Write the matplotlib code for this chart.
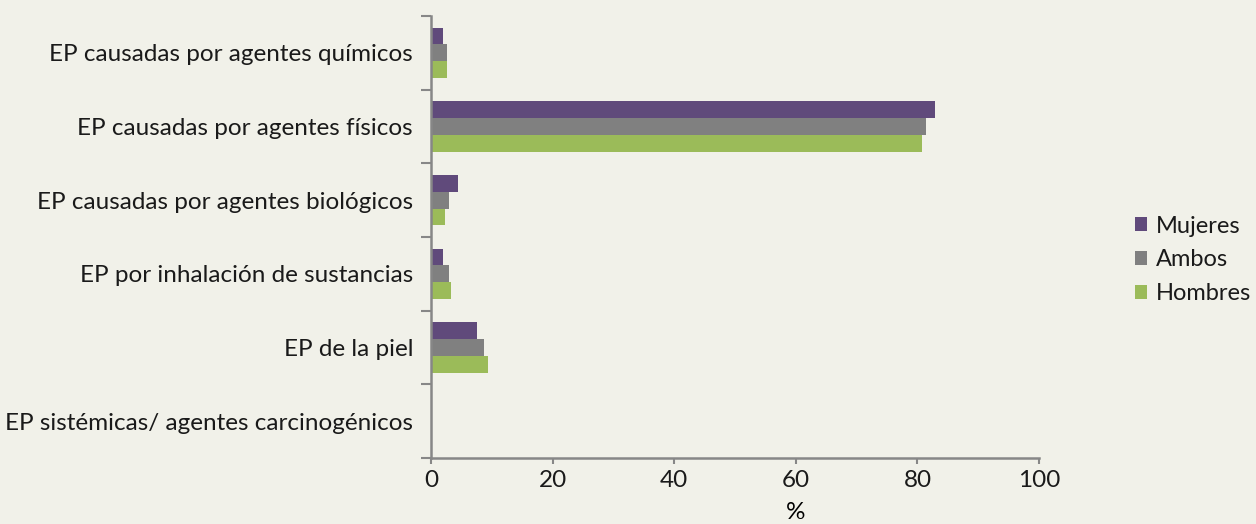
"""Enfermedades profesionales por tipo y sexo (%)."""

import matplotlib
matplotlib.use("Agg")
import matplotlib.pyplot as plt
import numpy as np

categorias = [
    "EP causadas por agentes químicos",
    "EP causadas por agentes físicos",
    "EP causadas por agentes biológicos",
    "EP por inhalación de sustancias",
    "EP de la piel",
    "EP sistémicas/ agentes carcinogénicos",
]
mujeres = [2.0, 82.9, 4.4, 2.0, 7.6, 0.1]
ambos = [2.6, 81.4, 3.0, 3.0, 8.7, 0.1]
hombres = [2.6, 80.7, 2.3, 3.3, 9.4, 0.1]
series = [("Mujeres", mujeres, "#604a7b"),
          ("Ambos", ambos, "#808080"),
          ("Hombres", hombres, "#9bbb59")]
xticks = [0, 20, 40, 60, 80, 100]

bg = "#f1f1e9"
axis_col = "#878787"
fs = 17.5
plt.rcParams["font.family"] = ["Lato", "DejaVu Sans"]
plt.rcParams["text.color"] = "#1a1a1a"

fig = plt.figure(figsize=(12.56, 5.24), dpi=100, facecolor=bg)
ax = fig.add_axes([0.3432, 0.1260, 0.4841, 0.8435], facecolor=bg)

n = len(categorias)
y = np.arange(n)
h = 0.227
for i, (name, vals, col) in enumerate(series):
    ax.barh(y + (i - 1) * h, vals, height=h, color=col, label=name)

ax.set_ylim(n - 0.5, -0.5)
ax.set_xlim(0, 100)
ax.set_xticks(xticks)
ax.set_xticklabels([str(t) for t in xticks], fontsize=fs, color="#1a1a1a")
ax.set_yticks(np.arange(n + 1) - 0.5)
ax.set_yticklabels([])
ax.set_yticks(y, minor=True)
ax.set_yticklabels(categorias, minor=True, fontsize=fs, color="#1a1a1a")
ax.tick_params(axis="y", which="major", length=7, width=1.5, color=axis_col, direction="out")
ax.tick_params(axis="y", which="minor", length=0, pad=13)
ax.tick_params(axis="x", length=4, width=1.5, color=axis_col, pad=5)
for s in ["top", "right"]:
    ax.spines[s].set_visible(False)
for s in ["left", "bottom"]:
    ax.spines[s].set_color(axis_col)
    ax.spines[s].set_linewidth(1.8)
ax.set_xlabel("%", fontsize=fs, va="bottom")
ax.xaxis.set_label_coords(0.60, -0.148)

ax.legend(loc="center left", bbox_to_anchor=(1135 / 1256, 1 - 260 / 524),
          bbox_transform=fig.transFigure, frameon=False, borderaxespad=0,
          borderpad=0, fontsize=17, handlelength=0.51, handleheight=0.51,
          handletextpad=0.38, labelspacing=0.55)

fig.savefig("out.png", dpi=100, facecolor=bg)
